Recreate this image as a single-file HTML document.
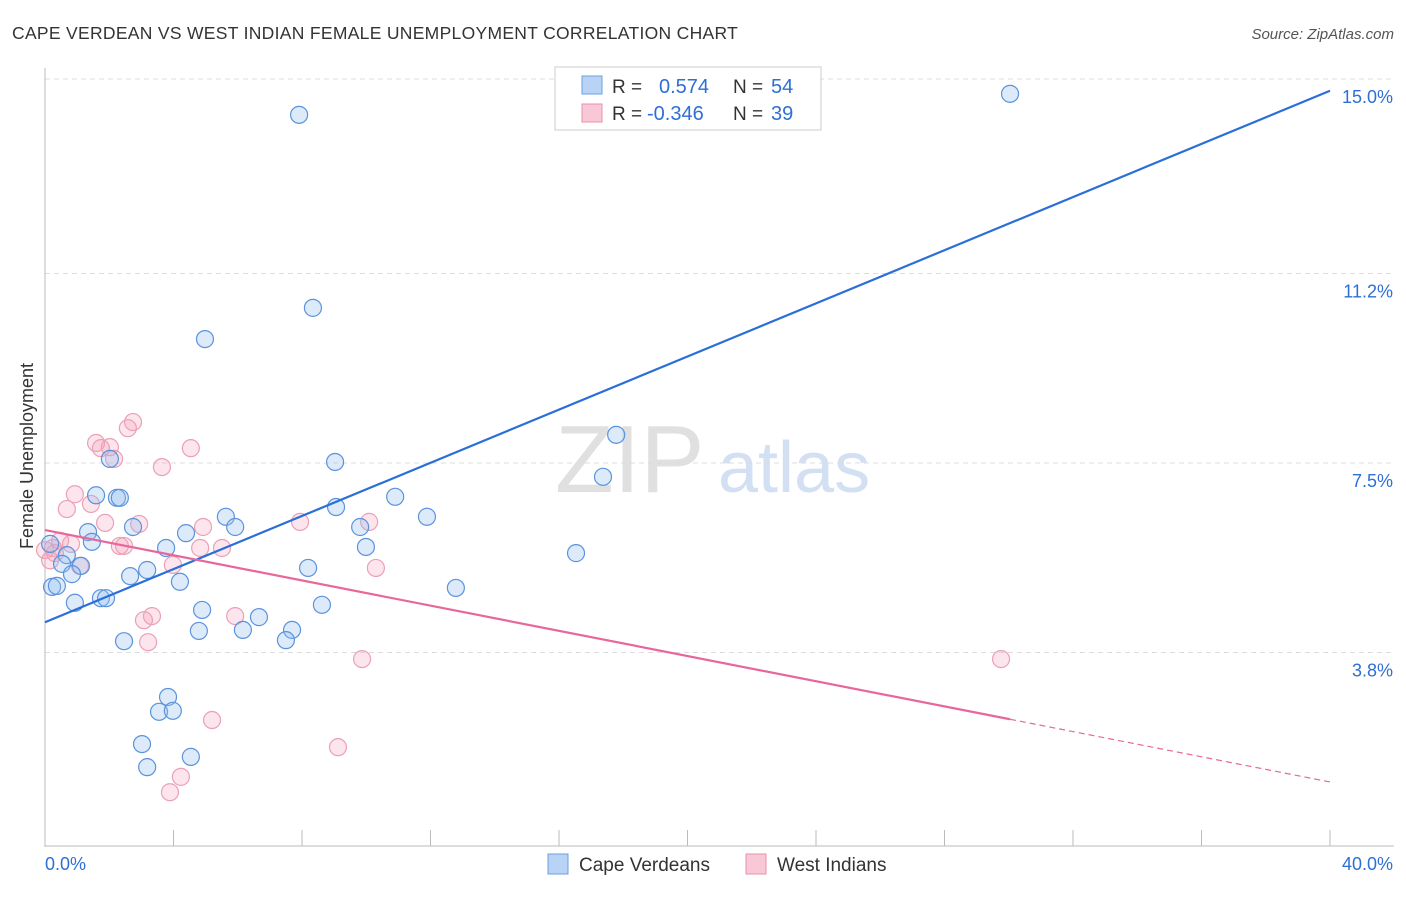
<!DOCTYPE html>
<html><head><meta charset="utf-8"><style>
body{margin:0;background:#fff;font-family:"Liberation Sans",sans-serif;}
svg text{font-family:"Liberation Sans",sans-serif;}
</style></head><body>
<svg id="c" width="1406" height="892">
<text x="12" y="39" font-size="17.5" fill="#333" letter-spacing="0.3">CAPE VERDEAN VS WEST INDIAN FEMALE UNEMPLOYMENT CORRELATION CHART</text>
<text x="1394" y="39" font-size="15" fill="#555" font-style="italic" text-anchor="end">Source: ZipAtlas.com</text>
<text x="33" y="456" font-size="18" fill="#333" transform="rotate(-90 33 456)" text-anchor="middle">Female Unemployment</text>
<text x="555" y="492" font-size="96" fill="#e0e0e0" font-family="Liberation Serif">ZIP</text>
<text x="718" y="492" font-size="72" fill="#d3e0f3">atlas</text>
<g id="grid"></g><g id="pts"></g><g id="lines"></g>
<g>
<rect x="555" y="67" width="266" height="63" fill="#fff" stroke="#ccc"/>
<rect x="582" y="76" width="20" height="18" fill="#b8d3f5" stroke="#6a9fe0"/>
<rect x="582" y="104" width="20" height="18" fill="#f9c8d6" stroke="#e890aa"/>
<text x="612" y="93" font-size="19" fill="#333">R = </text><text x="659" y="93" font-size="20" fill="#2e6fd6">0.574</text>
<text x="733" y="93" font-size="19" fill="#333">N = </text><text x="771" y="93" font-size="20" fill="#2e6fd6">54</text>
<text x="612" y="120" font-size="19" fill="#333">R = </text><text x="647" y="120" font-size="20" fill="#2e6fd6">-0.346</text>
<text x="733" y="120" font-size="19" fill="#333">N = </text><text x="771" y="120" font-size="20" fill="#2e6fd6">39</text>
</g>
<g>
<rect x="548" y="854" width="20" height="20" fill="#b8d3f5" stroke="#6a9fe0"/>
<text x="579" y="871" font-size="19" fill="#333">Cape Verdeans</text>
<rect x="746" y="854" width="20" height="20" fill="#f9c8d6" stroke="#e890aa"/>
<text x="777" y="871" font-size="19" fill="#333">West Indians</text>
</g>
</svg>
<script>
const xTicks=[0,40];
const yTicks=[3.8,7.5,11.2,15.0];
const yTickLabels=["3.8%","7.5%","11.2%","15.0%"];
const capeX=[7.91,30.04,8.34,4.98,17.78,17.37,9.03,2.02,1.59,2.24,2.33,10.90,9.06,5.63,11.89,5.92,9.81,1.34,4.39,2.74,1.46,3.77,9.99,16.53,0.16,0.68,0.53,1.12,8.19,3.18,0.84,2.65,4.20,0.22,0.37,12.79,0.93,1.74,1.90,8.62,4.89,6.66,4.79,6.16,7.69,7.50,2.46,3.83,3.55,3.98,3.02,4.54,3.18,21.88];
const capeY=[14.30,14.71,10.53,9.92,8.05,7.23,7.52,7.58,6.87,6.82,6.82,6.84,6.64,6.45,6.45,6.25,6.25,6.15,6.13,6.25,5.96,5.84,5.86,5.74,5.92,5.70,5.53,5.49,5.45,5.41,5.33,5.29,5.18,5.08,5.10,5.06,4.77,4.86,4.86,4.73,4.63,4.49,4.22,4.24,4.24,4.04,4.02,2.93,2.64,2.66,2.01,1.76,1.56,14.20];
const westX=[2.74,2.58,1.59,2.02,1.74,2.15,4.54,3.64,0.93,1.43,0.68,1.87,2.93,4.92,7.94,10.09,0.47,0.81,0.25,2.33,2.46,4.83,5.51,0.31,1.09,3.98,10.30,3.33,3.08,5.92,3.21,9.87,29.76,5.20,9.12,4.23,3.89,0.0,0.16];
const westY=[8.30,8.18,7.89,7.81,7.79,7.58,7.79,7.42,6.89,6.70,6.60,6.33,6.31,6.25,6.35,6.35,5.98,5.92,5.84,5.88,5.88,5.84,5.84,5.74,5.49,5.51,5.45,4.51,4.43,4.51,4.00,3.67,3.67,2.48,1.95,1.37,1.07,5.8,5.6];
const capeTrend=[4.39,14.77];
const westTrend=[6.19,1.27];
const westSolidEnd=30.04;
const NS="http://www.w3.org/2000/svg";
const X=v=>45+v/40*1285, Y=v=>847-v*51.2;
function mk(t,a,p){const e=document.createElementNS(NS,t);for(const k in a)e.setAttribute(k,a[k]);p.appendChild(e);return e;}
const grid=document.getElementById('grid');
yTicks.forEach((t,i)=>{const l=mk('line',{x1:45,x2:1394,y1:Y(t),y2:Y(t),stroke:'#ddd','stroke-dasharray':'5,4'},grid);


const tx=mk('text',{x:1393,y:Y(t)+24,'font-size':18,fill:'#2e6fd6','text-anchor':'end'},grid);tx.textContent=yTickLabels[i];

});
mk('line',{x1:45,x2:45,y1:68,y2:847,stroke:'#bbb'},grid);
mk('line',{x1:45,x2:1394,y1:846,y2:846,stroke:'#bbb'},grid);
for(let i=0;i<=10;i++){mk('line',{x1:X(i*4),x2:X(i*4),y1:830,y2:846,stroke:'#bbb'},grid);}
xTicks.forEach(t=>{const tx=mk('text',{x:t==0?45:1393,y:870,'font-size':18,fill:'#2e6fd6','text-anchor':t==0?'start':'end'},grid);tx.textContent=t.toFixed(1)+'%';

});
const pts=document.getElementById('pts');
westX.forEach((x,i)=>{const c=mk('circle',{cx:X(x),cy:Y(westY[i]),r:8.5,fill:'rgba(244,160,186,0.28)',stroke:'#eba0b6','stroke-width':1.2},pts);

});
capeX.forEach((x,i)=>{const c=mk('circle',{cx:X(x),cy:Y(capeY[i]),r:8.5,fill:'rgba(150,190,240,0.33)',stroke:'#5b93dd','stroke-width':1.2},pts);

});
const ln=document.getElementById('lines');
let b=mk('line',{x1:X(0),y1:Y(capeTrend[0]),x2:X(40),y2:Y(capeTrend[1]),stroke:'#2a6fd8','stroke-width':2.2},ln);


const wy=x=>westTrend[0]+(westTrend[1]-westTrend[0])*x/40;
let w=mk('line',{x1:X(0),y1:Y(wy(0)),x2:X(westSolidEnd),y2:Y(wy(westSolidEnd)),stroke:'#e8679a','stroke-width':2.2},ln);


let wd=mk('line',{x1:X(westSolidEnd),y1:Y(wy(westSolidEnd)),x2:X(40),y2:Y(wy(40)),stroke:'#e8679a','stroke-width':1.2,'stroke-dasharray':'6,4'},ln);


</script>
</body></html>
